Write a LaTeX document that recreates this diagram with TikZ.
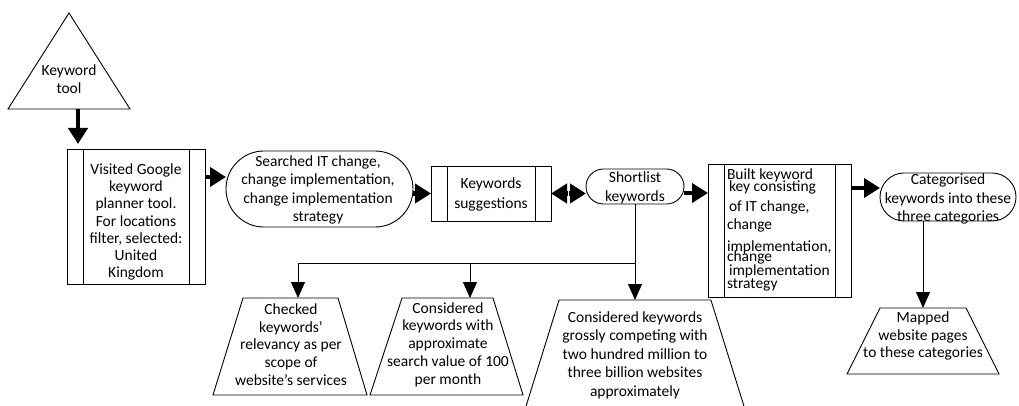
\documentclass[tikz,border=0pt]{standalone}
\usepackage{fontspec}
\setmainfont{Carlito}
\usetikzlibrary{arrows.meta,calc}
\begin{document}
\begin{tikzpicture}[x=1pt,y=-1pt,
  every node/.style={inner sep=0pt, outer sep=0pt},
  ln/.style={line width=0.9pt},
  txt/.style={align=center, font=\fontsize{15.5}{#1}\selectfont},
  txt/.default={17.8pt},
  proc/.style 2 args={draw, ln, rectangle, minimum width=#1, minimum height=#2,
    path picture={
      \draw[ln] ([xshift=16pt]path picture bounding box.north west) -- ([xshift=16pt]path picture bounding box.south west);
      \draw[ln] ([xshift=-16pt]path picture bounding box.north east) -- ([xshift=-16pt]path picture bounding box.south east);}},
  stad/.style 2 args={draw, ln, rectangle, minimum width=#1, minimum height=#2, rounded corners=0.499*#2},
  frame/.style 2 args={rectangle, minimum width=#1, minimum height=#2},
  tarrow/.style={line width=4.5pt, -{Triangle[width=19pt,length=16pt]}},
  harrow/.style={line width=1pt, -{Triangle[width=14pt,length=16pt]}}]

\useasboundingbox (0,0) rectangle (1019,406);
\fill[white] (0,0) rectangle (1019,406);
\clip (0,0) rectangle (1019,406);

% shapes
\node[frame={122pt}{96pt}] (kt) at (69,61) {};
\draw[ln] (kt.south west) -- (kt.north) -- (kt.south east) -- cycle;
\node[txt] (ktt) at (69,79.5) {Keyword\\tool};

\node[proc={138pt}{135pt}] (b1) at (136,216.5) {};
\node[txt=17.3pt] (b1t) at (136,222) {Visited Google\\keyword\\planner tool.\\For locations\\filter, selected:\\United\\Kingdom};

\node[stad={187pt}{76pt}] (s1) at (319.5,189) {};
\node[txt=18.3pt] (s1t) at (318,190) {Searched IT change,\\change implementation,\\change implementation\\strategy};

\node[proc={120pt}{55pt}] (b2) at (491,193.5) {};
\node[txt=20pt] (b2t) at (491,194) {Keywords\\suggestions};

\node[stad={98pt}{35pt}] (s2) at (635,186.5) {};
\node[txt=19pt] (s2t) at (635,188) {Shortlist\\keywords};

\node[proc={143pt}{133pt}] (b3) at (779.5,230.5) {};
\node[txt, align=left, anchor=north west] (b3t) at (727,169) {Built keyword\\[-5.8pt]
\hspace*{2pt}key consisting\\[2.2pt]
\hspace*{2pt}of IT change,\\[0.2pt]
change\\[4.2pt]
implementation,\\[-7.8pt]
change\\[-3.8pt]
\hspace*{2pt}implementation\\[-4.8pt]
strategy};

\node[stad={136pt}{48pt}] (s3) at (948,197) {};
\node[txt=18.5pt] (s3t) at (948,199) {Categorised\\keywords into these\\three categories};

\node[frame={154pt}{97pt}] (tA) at (290,346.5) {};
\draw[ln] ([xshift=30pt]tA.north west) -- ([xshift=-29pt]tA.north east) -- (tA.south east) -- (tA.south west) -- cycle;
\node[txt] (tAt) at (291,344.5) {Checked\\keywords’\\relevancy as per\\scope of\\website’s services};

\node[frame={153pt}{97pt}] (tB) at (446.5,346.5) {};
\draw[ln] ([xshift=32pt]tB.north west) -- ([xshift=-30pt]tB.north east) -- (tB.south east) -- (tB.south west) -- cycle;
\node[txt] (tBt) at (448,344.5) {Considered\\keywords with\\approximate\\search value of 100\\per month};

\node[frame={239pt}{140pt}] (tC) at (635,370) {};
\draw[ln] ([xshift=43.6pt]tC.north west) -- ([xshift=-43.6pt]tC.north east) -- (tC.south east) -- (tC.south west) -- cycle;
\node[txt=18.5pt] (tCt) at (635,355) {Considered keywords\\grossly competing with\\two hundred million to\\three billion websites\\approximately};

\node[frame={152pt}{66pt}] (tD) at (923,341) {};
\draw[ln] ([xshift=33pt]tD.north west) -- ([xshift=-33pt]tD.north east) -- (tD.south east) -- (tD.south west) -- cycle;
\node[txt=17.5pt] (tDt) at (923,336) {Mapped\\website pages\\to these categories};

% connectors
\coordinate (k1) at ([xshift=9pt]kt.south);
\draw[tarrow, shorten >=5pt] (k1) -- (k1 |- b1.north);

\coordinate (a2) at ([yshift=12pt]s1.west);
\draw[tarrow] (a2 -| b1.east) -- (a2);

\draw[tarrow] (s1.east |- b2.west) -- (b2.west);

\coordinate (m4) at ($(b2.east)!0.5!(s2.west |- b2.east)$);
\draw[tarrow, shorten <=0.6pt] (m4) -- (b2.east);
\draw[tarrow, shorten <=0.6pt] (m4) -- (s2.west |- b2.east);

\coordinate (a5) at ([yshift=-6.5pt]s2.east);
\draw[tarrow] (a5) -- (a5 -| b3.west);

\coordinate (a6) at ([yshift=9pt]s3.west);
\draw[tarrow] (a6 -| b3.east) -- (a6);

\coordinate (j) at ([yshift=-59pt]s2.south);
\coordinate (jA) at ([xshift=8pt]tA.north);
\coordinate (jB) at ([xshift=23.5pt]tB.north);
\draw[ln] (s2.south) -- (j);
\draw[harrow] (j) -| (jA);
\draw[harrow] (j -| jB) -- (jB);
\draw[harrow] (j) -- (tC.north);

\draw[harrow] (tD.north |- s3.south) -- (tD.north);
\end{tikzpicture}
\end{document}
